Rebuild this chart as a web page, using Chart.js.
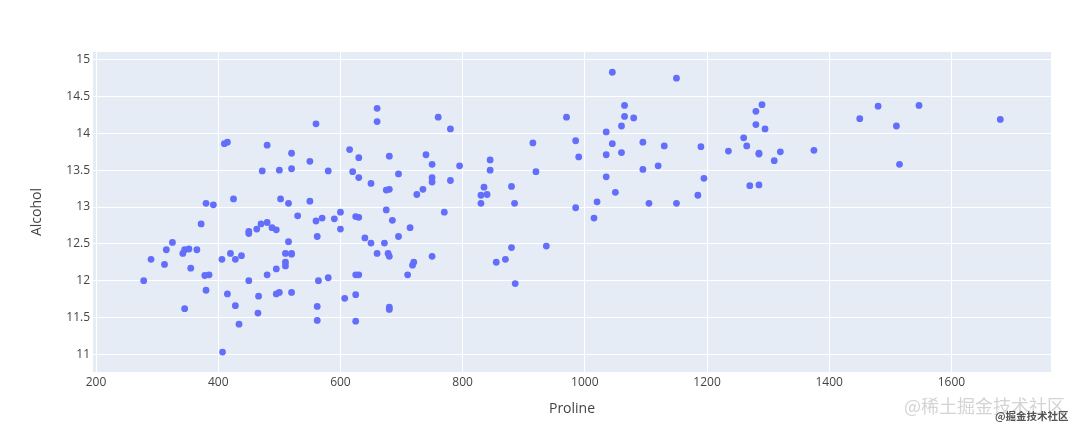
<!DOCTYPE html>
<html lang="en">

<head>
    <meta charset="UTF-8">
    <title>Proline vs Alcohol</title>
    <script src="https://cdn.jsdelivr.net/npm/chart.js"></script>
    <style>
        body { margin: 0; background: #fff; }
        .wrap { position: relative; width: 1080px; height: 429px; }
        .mark1 { position: absolute; left: 904px; top: 392px; font-family: "Noto Sans CJK SC", sans-serif; font-size: 18px; color: #d4d4d4; white-space: nowrap; }
        .mark2 { position: absolute; left: 995px; top: 408px; font-family: "Noto Sans CJK SC", sans-serif; font-size: 10.5px; font-weight: bold; color: #555; white-space: nowrap; }
    </style>
</head>

<body>
    <div class="wrap">
        <canvas id="wineChart" width="1080" height="429"></canvas>
        <div class="mark1">@稀土掘金技术社区</div>
        <div class="mark2">@掘金技术社区</div>
    </div>

    <script>
        // dades llegides del gràfic (Proline -> Alcohol)
        const prolineValues = [
            1065, 1050, 1185, 1480, 735, 1450, 1290, 1295, 1045, 1045, 1510, 1280, 1320, 1150, 1547, 1310, 1280, 1130, 1680, 845,
            780, 770, 1035, 1015, 845, 830, 1195, 1285, 915, 1035, 1285, 1515, 990, 1235, 1095, 920, 880, 1105, 1020, 760,
            795, 1035, 1095, 680, 885, 1080, 1065, 985, 1060, 1260, 1150, 1265, 1190, 1375, 1060, 1120, 970, 1270, 1285,
            520, 680, 450, 630, 420, 355, 678, 502, 510, 750, 718, 870, 410, 472, 985, 886, 428, 392, 500, 750,
            463, 278, 714, 630, 515, 520, 450, 495, 562, 680, 625, 480, 450, 495, 290, 345, 937, 625, 428, 660,
            406, 710, 562, 438, 415, 672, 315, 510, 488, 312, 680, 562, 325, 607, 434, 385, 407, 495, 345, 372,
            564, 625, 465, 365, 380, 380, 378, 352, 466, 342, 580,
            630, 530, 560, 600, 650, 695, 720, 515, 580, 590, 600, 780, 520, 550, 855, 830, 415, 625, 650, 550,
            500, 480, 425, 675, 640, 725, 480, 880, 660, 620, 520, 680, 570, 675, 615, 520, 695, 685, 750, 630,
            510, 470, 660, 740, 750, 835, 840, 560
        ];
        const alcoholValues = [
            14.23, 13.2, 13.16, 14.37, 13.24, 14.2, 14.39, 14.06, 14.83, 13.86, 14.1, 14.12, 13.75, 14.75, 14.38, 13.63, 14.3, 13.83, 14.19, 13.64,
            14.06, 12.93, 13.71, 12.85, 13.5, 13.05, 13.39, 13.3, 13.87, 14.02, 13.73, 13.58, 13.68, 13.76, 13.51, 13.48, 13.28, 13.05, 13.07, 14.22,
            13.56, 13.41, 13.88, 13.24, 13.05, 14.21, 14.38, 13.9, 14.1, 13.94, 13.05, 13.83, 13.82, 13.77, 13.74, 13.56, 14.22, 13.29, 13.72,
            12.37, 12.33, 12.64, 13.67, 12.37, 12.17, 12.37, 13.11, 12.37, 13.34, 12.21, 12.29, 13.86, 13.49, 12.99, 11.96, 11.66, 13.03, 11.84, 12.33,
            12.7, 12.0, 12.72, 12.08, 13.05, 11.84, 12.67, 12.16, 11.65, 11.64, 12.08, 12.08, 12.0, 12.69, 12.29, 11.62, 12.47, 11.81, 12.29, 12.37,
            12.29, 12.08, 12.6, 12.34, 11.82, 12.51, 12.42, 12.25, 12.72, 12.22, 11.61, 11.46, 12.52, 11.76, 11.41, 12.08, 11.03, 11.82, 12.42, 12.77,
            12.0, 11.45, 11.56, 12.42, 13.05, 11.87, 12.07, 12.43, 11.79, 12.37, 12.04,
            12.86, 12.88, 12.81, 12.7, 12.51, 12.6, 12.25, 12.53, 13.49, 12.84, 12.93, 13.36, 13.52, 13.62, 12.25, 13.16, 13.88, 12.87, 13.32, 13.08,
            13.5, 12.79, 13.11, 13.23, 12.58, 13.17, 13.84, 12.45, 14.34, 13.48, 12.36, 13.69, 12.85, 12.96, 13.78, 13.73, 13.45, 12.82, 13.58, 13.4,
            12.2, 12.77, 14.16, 13.71, 13.4, 13.27, 13.17, 14.13
        ];
        const xTicks = [200, 400, 600, 800, 1000, 1200, 1400, 1600];
        const yTicks = [11, 11.5, 12, 12.5, 13, 13.5, 14, 14.5, 15];

        const punts = prolineValues.map((p, i) => ({ x: p, y: alcoholValues[i] }));

        const textColor = '#444';
        const fontFamily = '"Open Sans", "Noto Sans", sans-serif';

        // fons de l'àrea del gràfic (estil plotly)
        const fonsPlot = {
            id: 'fonsPlot',
            beforeDraw(chart) {
                const { ctx, chartArea } = chart;
                ctx.save();
                ctx.fillStyle = '#E5ECF6';
                ctx.fillRect(chartArea.left, chartArea.top, chartArea.right - chartArea.left, chartArea.bottom - chartArea.top);
                ctx.restore();
            }
        };

        const ctx = document.getElementById('wineChart').getContext('2d');
        const chart = new Chart(ctx, {
            type: 'scatter',
            data: {
                datasets: [{
                    label: 'Alcohol',
                    data: punts,
                    backgroundColor: '#636efa',
                    borderWidth: 0,
                    pointRadius: 3.4,
                    pointHoverRadius: 3.4
                }]
            },
            options: {
                responsive: false,
                animation: false,
                devicePixelRatio: 1,
                layout: { padding: { top: 52, right: 29, left: 0, bottom: 0 } },
                plugins: {
                    legend: { display: false },
                    tooltip: { enabled: false }
                },
                scales: {
                    x: {
                        type: 'linear',
                        min: 195,
                        max: 1763,
                        afterFit: (scale) => { scale.height = 57; },
                        afterBuildTicks: (scale) => { scale.ticks = xTicks.map(v => ({ value: v })); },
                        grid: { color: '#ffffff', lineWidth: 1, drawTicks: false },
                        border: { display: false },
                        ticks: {
                            padding: 3,
                            color: textColor,
                            font: { family: fontFamily, size: 12 },
                            callback: (v) => String(v)
                        },
                        title: {
                            display: true,
                            text: 'Proline',
                            color: textColor,
                            font: { family: fontFamily, size: 14 },
                            padding: { top: 0, bottom: 11.6 }
                        }
                    },
                    y: {
                        type: 'linear',
                        min: 10.76,
                        max: 15.105,
                        afterFit: (scale) => { scale.width = 93; },
                        afterBuildTicks: (scale) => { scale.ticks = yTicks.map(v => ({ value: v })); },
                        grid: { color: '#ffffff', lineWidth: 1, drawTicks: false },
                        border: { display: false },
                        ticks: {
                            padding: 3,
                            color: textColor,
                            font: { family: fontFamily, size: 12 },
                            callback: (v) => String(v)
                        },
                        title: {
                            display: true,
                            text: 'Alcohol',
                            color: textColor,
                            font: { family: fontFamily, size: 14 },
                            padding: { top: 28.6, bottom: 0 }
                        }
                    }
                }
            },
            plugins: [fonsPlot]
        });
    </script>
</body>

</html>
